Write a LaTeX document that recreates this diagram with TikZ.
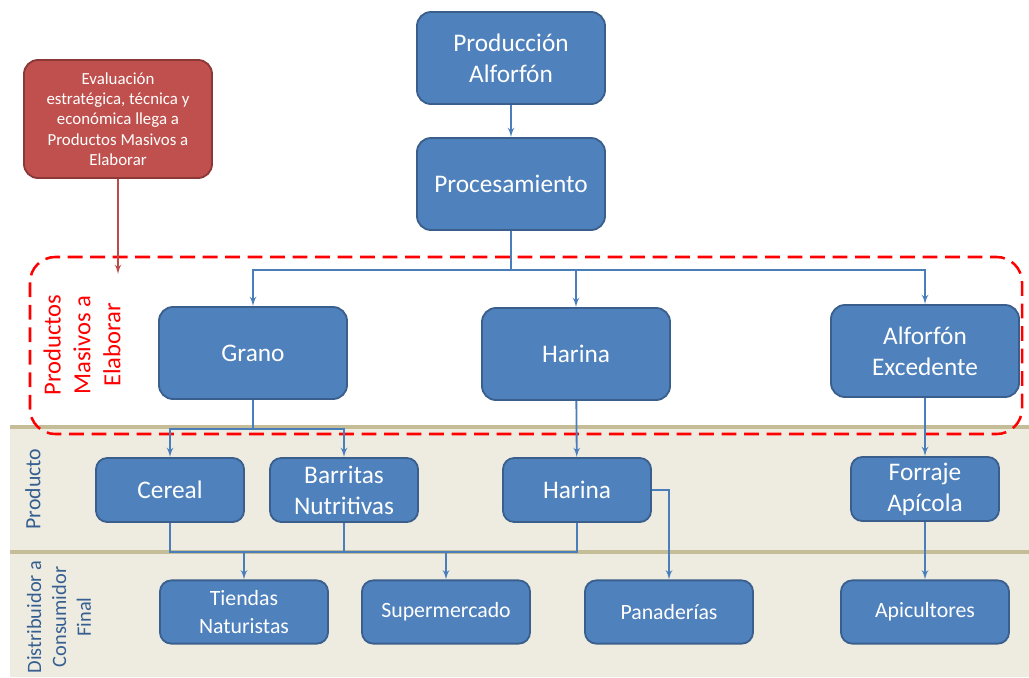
\documentclass[tikz,border=0pt]{standalone}
\usepackage{fontspec}
\setmainfont{Carlito}
\usetikzlibrary{arrows,positioning}

\definecolor{boxblue}{HTML}{4F81BD}
\definecolor{boxline}{HTML}{3A5F8D}
\definecolor{linkblue}{HTML}{4A7EBB}
\definecolor{boxred}{HTML}{C0504D}
\definecolor{redline}{HTML}{8C3836}
\definecolor{redlink}{HTML}{BE4B48}
\definecolor{bandfill}{HTML}{EEECE1}
\definecolor{bandline}{HTML}{C4BD97}
\definecolor{labelblue}{HTML}{365F91}

\begin{document}
\begin{tikzpicture}[x=0.025cm,y=-0.025cm,->,>=latex',line width=1.3pt,
    draw=linkblue,
    main node/.style={rectangle,rounded corners=10pt,draw=boxline,fill=boxblue,
        text=white,align=center,minimum width=4.7cm,minimum height=2.3cm,
        font=\fontsize{18}{22}\selectfont},
    prod node/.style={main node,rounded corners=8pt,minimum width=3.7cm,
        minimum height=1.6cm},
    dist node/.style={main node,rounded corners=8pt,minimum width=4.2cm,
        minimum height=1.58cm,font=\fontsize{15.5}{20}\selectfont},
    eval node/.style={main node,fill=boxred,draw=redline,minimum height=2.95cm,
        font=\fontsize{12}{14.4}\selectfont},
    side label/.style={rotate=90,align=center,text=labelblue,
        font=\fontsize{14.5}{17.7}\selectfont}]
\useasboundingbox (0,0) rectangle (1029,677);

% bands
\fill[bandfill] (10,427) rectangle (1029,677);
\draw[-,bandline,line width=2.2pt] (10,427) -- (1029,427);
\draw[-,bandline,line width=2.2pt] (10,552) -- (1029,552);

% products group
\draw[-,red,line width=1.8pt,dash pattern=on 10.5pt off 5.5pt,rounded corners=18pt]
    (30,257) rectangle (1022,434);

\node[main node] (prod) at (511,58) {Producción\\Alforfón};
\node[main node] (proc) at (511,184) {Procesamiento};
\node[eval node] (eval) at (118,119) {Evaluación\\estratégica, técnica y\\económica llega a\\Productos Masivos a\\Elaborar};

\node[main node] (grano) at (253,353) {Grano};
\node[main node] (harina) at (576,354) {Harina};
\node[main node] (excedente) at (925,351) {Alforfón\\Excedente};

\node[prod node] (cereal) at (170,490) {Cereal};
\node[prod node] (barritas) at (344,490) {Barritas\\Nutritivas};
\node[prod node] (harinap) at (577,490) {Harina};
\node[prod node] (forraje) at (925,489) {Forraje\\Apícola};

\node[dist node] (tiendas) at (244,612) {Tiendas\\Naturistas};
\node[dist node] (super) at (446,612) {Supermercado};
\node[dist node] (panad) at (669,612) {Panaderías};
\node[dist node] (apic) at (925,612) {Apicultores};

\node[side label,text=red,font=\fontsize{17.5}{21.3}\selectfont] (masivos) at (82,345) {Productos\\Masivos a\\Elaborar};
\node[side label,font=\fontsize{15.5}{18}\selectfont] (producto) at (33,489) {Producto};
\node[side label] (distrib) at (59,617) {Distribuidor a\\Consumidor\\Final};

\coordinate (split) at (511,270);
\coordinate (evalend) at (118,274);
\coordinate (granosplit) at (253,429);
\coordinate (merge) at (446,552);

\path (prod) edge (proc)
    (harina) edge (harinap)
    (excedente) edge (forraje)
    (forraje) edge (apic)
    (merge) edge (super)
    (tiendas |- merge) edge (tiendas)
    (harina |- split) edge (harina);

\draw[redlink] (eval) -- (evalend);
\draw[-] (proc) -- (split);
\draw (split) -| (grano);
\draw (split) -| (excedente);
\draw[-] (grano) -- (granosplit);
\draw (granosplit) -| (cereal);
\draw (granosplit) -| (barritas);
\draw[-] (cereal) |- (merge) -| (harinap);
\draw[-] (barritas) -- (barritas |- merge);
\draw (harinap) -| (panad);

\end{tikzpicture}
\end{document}
